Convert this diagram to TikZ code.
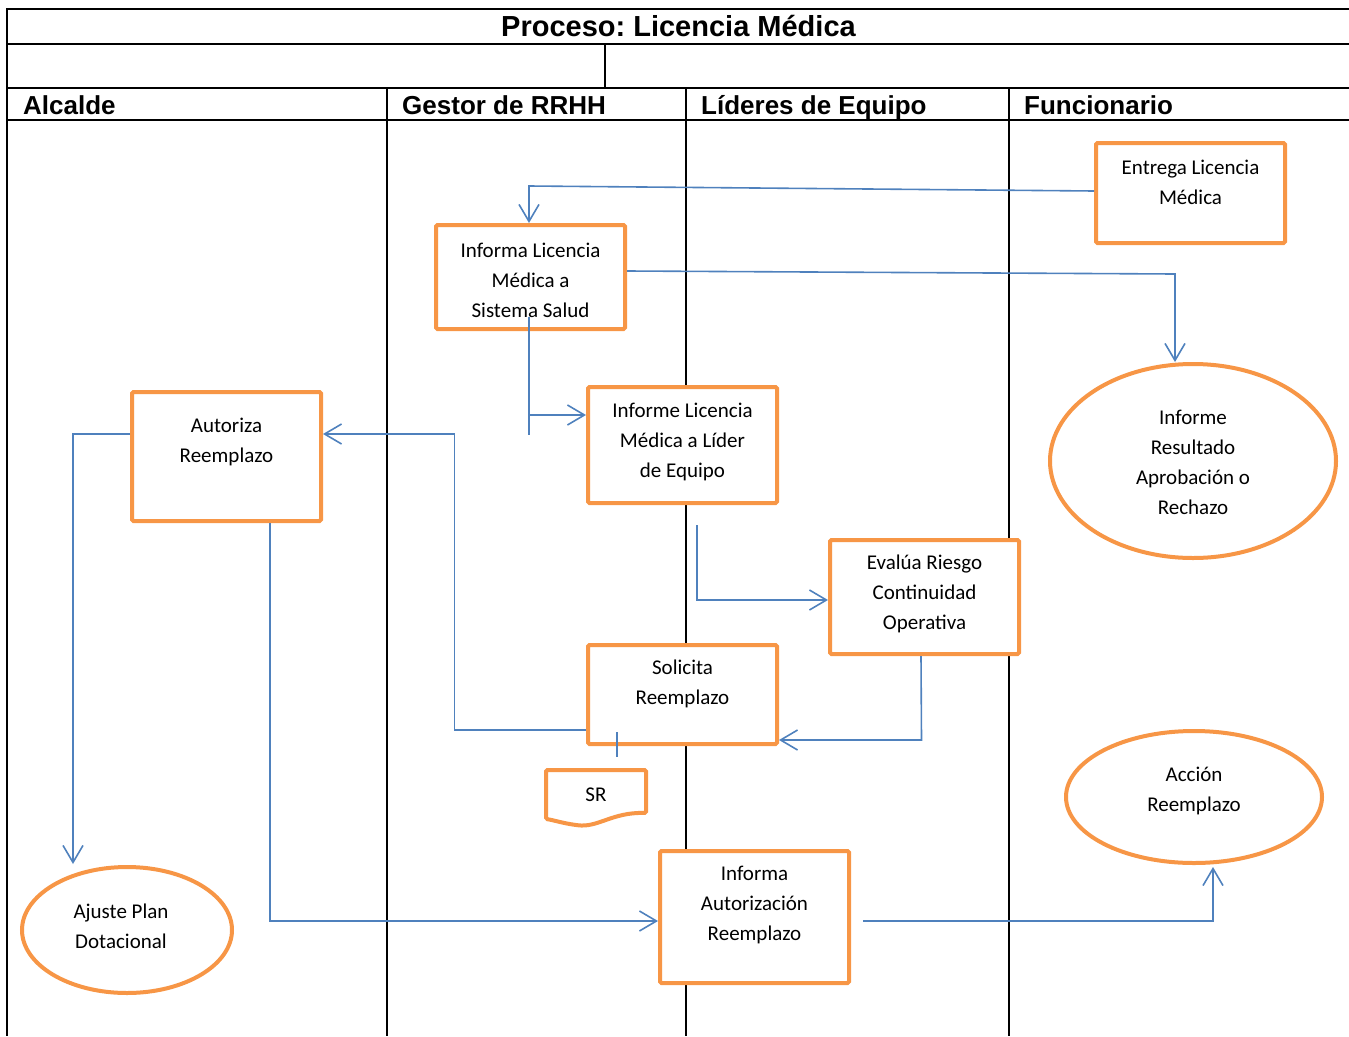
\documentclass[tikz,border=0pt]{standalone}
\usepackage{fontspec}
\setmainfont{Carlito}
\newfontfamily\hdrfont{Liberation Sans}
\usetikzlibrary{arrows.meta,shapes.geometric,calc}
\definecolor{orangeB}{HTML}{F79646}
\definecolor{blueC}{HTML}{4F81BD}
\frenchspacing
\tikzset{
  lane/.style={line width=2pt,black},
  box/.style={draw=orangeB,line width=4pt,rounded corners=1.5pt,minimum width=189pt,inner sep=0pt,fill=white},
  oval/.style={draw=orangeB,line width=4pt,ellipse,inner sep=0pt,fill=white},
  txt/.style={inner sep=0pt,align=center,font=\fontsize{21}{30}\selectfont},
  hdr/.style={inner sep=0pt,anchor=base west,font=\hdrfont\bfseries\fontsize{26}{30}\selectfont},
  con/.style={blueC,line width=1.6pt},
  arr/.style={con,-{Straight Barb[length=17pt,width=20pt,line width=1.6pt]}}
}
\begin{document}
\begin{tikzpicture}[x=1pt,y=-1pt]
\useasboundingbox (0,0) rectangle (1349,1036);
% table frame
\draw[lane] (7,9) -- (1349,9);
\draw[lane] (7,44) -- (1349,44);
\draw[lane] (7,88) -- (1349,88);
\draw[lane] (7,120) -- (1349,120);
\draw[lane] (7,8) -- (7,1036);
\draw[lane] (605,44) -- (605,88);
\draw[lane] (387,88) -- (387,1036);
\draw[lane] (686,88) -- (686,1036);
\draw[lane] (1009,88) -- (1009,1036);
\node[inner sep=0pt,anchor=base,font=\hdrfont\bfseries\fontsize{29}{30}\selectfont] (title) at (678.5,36) {Proceso: Licencia Médica};
\node[hdr] (h1) at (23,114) {Alcalde};
\node[hdr] (h2) at (402,114) {Gestor de RRHH};
\node[hdr] (h3) at (701,114) {Líderes de Equipo};
\node[hdr] (h4) at (1024,114) {Funcionario};
% boxes
\node[box,minimum height=100pt] (entrega) at (1190.5,193) {};
\node[txt] (entregaT) at (1190.5,182.5) {Entrega Licencia\\Médica};
\node[box,minimum height=104pt] (informa) at (530.5,277) {};
\node[txt] (informaT) at (530.5,280) {Informa Licencia\\Médica a\\Sistema Salud};
\node[box,minimum height=116pt] (lider) at (682.5,445) {};
\node[txt] (liderT) at (682.5,442) {Informe Licencia\\Médica a Líder\\de Equipo};
\node[box,minimum height=129pt] (autoriza) at (226.5,456.5) {};
\node[txt] (autorizaT) at (226.5,442) {Autoriza\\Reemplazo};
\node[box,minimum height=114pt] (evalua) at (924.5,597) {};
\node[txt] (evaluaT) at (924.5,594) {Evalúa Riesgo\\Continuidad\\Operativa};
\node[box,minimum height=99pt] (solicita) at (682.5,694.5) {};
\node[txt] (solicitaT) at (682.5,684) {Solicita\\Reemplazo};
\node[box,minimum height=132pt] (infaut) at (754.5,917) {};
\node[txt] (infautT) at (754.5,905) {Informa\\Autorización\\Reemplazo};
% document SR
\draw[draw=orangeB,line width=4pt,rounded corners=1.5pt,fill=white] (546,770) -- (646,770) -- (646,813)
  .. controls (612,812) and (598,828) .. (576,825)
  .. controls (562,823) and (553,820) .. (546,819) -- cycle;
\node[txt] (srT) at (596,795) {SR};
% ellipses
\node[oval,minimum width=286pt,minimum height=194pt] (infres) at (1193,461) {};
\node[txt] (infresT) at (1193,462) {Informe\\Resultado\\Aprobación o\\Rechazo};
\node[oval,minimum width=256pt,minimum height=132pt] (accion) at (1194,797) {};
\node[txt] (accionT) at (1194,791) {Acción\\Reemplazo};
\node[oval,minimum width=210pt,minimum height=126pt] (ajuste) at (127,930) {};
\node[txt] (ajusteT) at (121,926) {Ajuste Plan\\Dotacional};
% connectors
\draw[arr] ([yshift=2pt]entrega.west) -- ([xshift=-1.5pt,yshift=37pt]informa.north) -- ([xshift=-1.5pt]informa.north);
\draw[arr] ([yshift=6pt]informa.east) -- ([xshift=-18pt,yshift=88pt]infres.north) -- ([xshift=-18pt]infres.north);
\draw[con] ([xshift=-1.5pt,yshift=14pt]informa.south) -- ([xshift=-1.5pt,yshift=-104pt]informa.south);
\coordinate (l1) at ([yshift=30pt]lider.west);
\coordinate (i1) at ([xshift=-1.5pt]informa.south);
\draw[arr] (l1 -| i1) -- (l1);
\draw[arr] ([xshift=14.5pt,yshift=-20pt]lider.south) |- ([yshift=-3pt]evalua.west);
\coordinate (s5) at ([yshift=-45.5pt]solicita.east);
\coordinate (e5) at ([xshift=-3pt]evalua.south);
\draw[arr] ([xshift=-3.5pt]evalua.south) -- (s5 -| e5) -- (s5);
\coordinate (sa) at ([yshift=-35.5pt]solicita.west);
\coordinate (ab) at ([yshift=22.5pt]autoriza.east);
\draw[arr] (sa) -| ($(sa)!.5!(ab)$) |- (ab);
\draw[con] ([xshift=-65.5pt,yshift=14pt]solicita.south) -- ([xshift=-65.5pt,yshift=-11pt]solicita.south);
\draw[arr] ([yshift=22.5pt]autoriza.west) -| ([xshift=-54pt,yshift=1pt]ajuste.north);
\draw[arr] ([xshift=43.5pt]autoriza.south) |- ([yshift=-4pt]infaut.west);
\draw[arr] ([xshift=12pt,yshift=-4pt]infaut.east) -| ([xshift=19pt,yshift=-2pt]accion.south);
\end{tikzpicture}
\end{document}
